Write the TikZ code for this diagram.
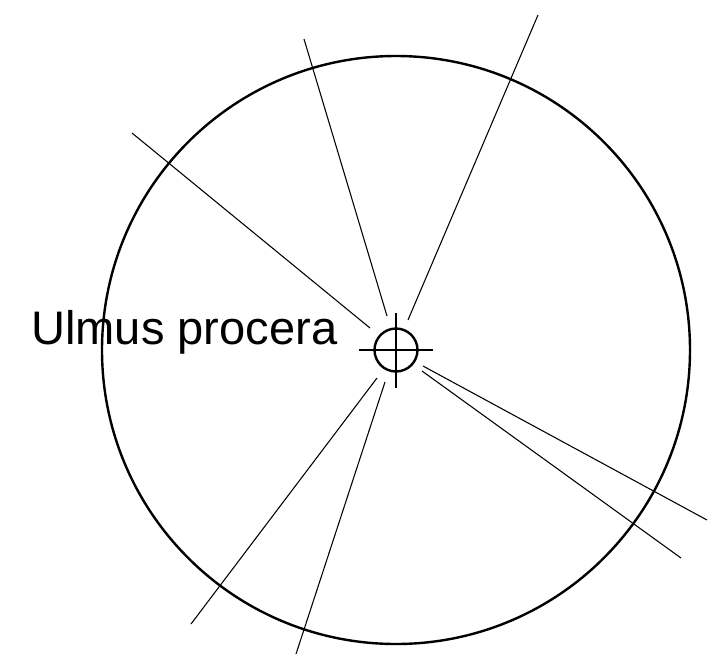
\documentclass[tikz,border=0pt]{standalone}
\usepackage{fontspec}
\setmainfont{Liberation Sans}
\tikzset{ray/.style={line width=0.8pt}, ring/.style={line width=1.8pt}}
\begin{document}
\begin{tikzpicture}[x=0.75pt, y=-0.75pt, every node/.style={font=\fontsize{35.3}{40}\selectfont}]
  \useasboundingbox (0,0) rectangle (708,654);
  \coordinate (O) at (396,350);
  \draw[ring] (O) circle (294);
  \draw[ring] (O) circle (21.5);
  % crosshair
  \draw[ray] (359,350) -- (433,350);
  \draw[ray] (396,313) -- (396,388);
  % rays
  \draw[ray] (304,39) -- (387,316);
  \draw[ray] (538,15) -- (408,320);
  \draw[ray] (132,133) -- (370,328);
  \draw[ray] (707,520) -- (423,366);
  \draw[ray] (681,558) -- (422,371);
  \draw[ray] (191,624) -- (377,378);
  \draw[ray] (296,654) -- (385,382);
  \node[right, inner sep=0pt] (name) at (31,332) {Ulmus procera};
\end{tikzpicture}
\end{document}
